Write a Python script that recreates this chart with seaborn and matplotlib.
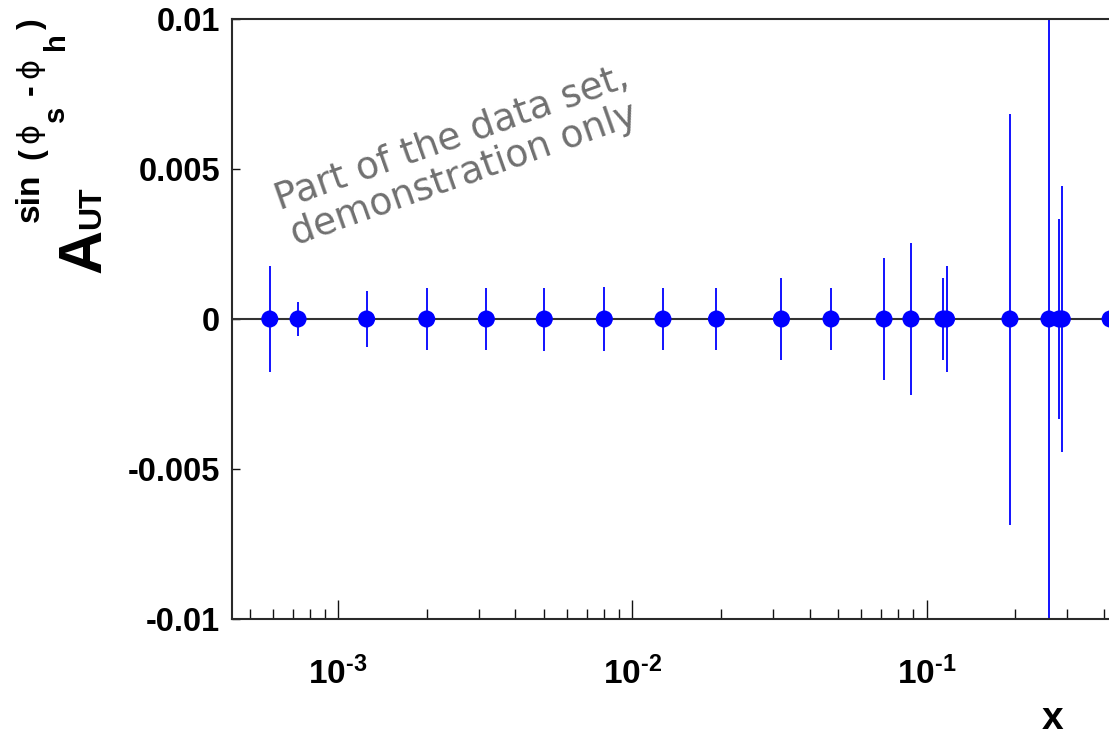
import matplotlib
matplotlib.use("Agg")
import matplotlib.pyplot as plt
import seaborn as sns
from matplotlib.ticker import FixedLocator, LogLocator, NullFormatter, NullLocator

# Bin centres in x and the measured sin(phi_s - phi_h) asymmetry with its error
x_vals = [5.86e-4, 7.31e-4, 1.25e-3, 2.0e-3, 3.19e-3, 5.02e-3, 8.03e-3,
          1.27e-2, 1.93e-2, 3.21e-2, 4.73e-2, 7.16e-2, 8.84e-2, 0.1135,
          0.1168, 0.1918, 0.2603, 0.2815, 0.2889, 0.42]
asym = [0.0, 0.0, 0.0, 0.0, 0.0, 0.0, 0.0, 0.0, 0.0, 0.0,
        0.0, 0.0, 0.0, 0.0, 0.0, 0.0, 0.0, 0.0, 0.0, 0.0]
asym_err = [0.00177, 0.00058, 0.00093, 0.00102, 0.00102, 0.00105, 0.00108,
            0.00102, 0.00102, 0.00138, 0.00102, 0.00202, 0.00252, 0.00138,
            0.00178, 0.00685, 0.0125, 0.00334, 0.00444, 0.00100]

y_ticks = [-0.01, -0.005, 0.0, 0.005, 0.01]
y_tick_labels = ["-0.01", "-0.005", "0", "0.005", "0.01"]
x_ticks = [1e-3, 1e-2, 1e-1]
x_tick_labels = [r"$10^{\text{-}3}$", r"$10^{\text{-}2}$", r"$10^{\text{-}1}$"]
x_range = (4.36e-4, 1.0)
y_range = (-0.01, 0.01)

W, H = 1109, 738

sns.set_theme(style="white")
plt.rcParams.update({
    "font.family": ["Liberation Sans", "DejaVu Sans"],
    "font.weight": "bold",
    "text.color": "black",
    "xtick.color": "black",
    "ytick.color": "black",
    "xtick.labelcolor": "black",
    "ytick.labelcolor": "black",
    "mathtext.fontset": "custom",
    "mathtext.rm": "Liberation Sans:bold",
    "mathtext.bf": "Liberation Sans:bold",
    "mathtext.sf": "Liberation Sans:bold",
    "mathtext.it": "Liberation Sans:bold",
    "axes.unicode_minus": False,
})


def fx(px):
    return px / W


def fy(py):
    return 1 - py / H


fig = plt.figure(figsize=(W / 100, H / 100), dpi=100)
fig.patch.set_facecolor("white")
# frame runs past the right edge of the canvas
ax = fig.add_axes([fx(232), fy(619), 989 / W, (619 - 19) / H])
ax.set_facecolor("white")

ax.axhline(0.0, color="#333333", lw=1.5, zorder=1)

lo = [a - e for a, e in zip(asym, asym_err)]
hi = [a + e for a, e in zip(asym, asym_err)]
ax.vlines(x_vals, lo, hi, color="#0000ff", lw=1.3, zorder=2)
sns.scatterplot(x=x_vals, y=asym, ax=ax, color="#0000ff", s=150,
                marker="o", edgecolor="none", linewidth=0, zorder=3)

ax.set_xscale("log")
ax.set_xlim(*x_range)
ax.set_ylim(*y_range)

ax.xaxis.set_major_locator(FixedLocator(x_ticks))
ax.set_xticklabels(x_tick_labels)
ax.xaxis.set_minor_locator(LogLocator(base=10, subs=range(2, 10), numticks=20))
ax.xaxis.set_minor_formatter(NullFormatter())
ax.set_yticks(y_ticks)
ax.set_yticklabels(y_tick_labels)
ax.yaxis.set_minor_locator(NullLocator())

ax.tick_params(axis="x", which="major", direction="in", length=13.5, width=1.0,
               color="#111111", pad=27, labelsize=24, bottom=True, top=False)
ax.tick_params(axis="x", which="minor", direction="in", length=7.0, width=1.0,
               color="#111111", bottom=True, top=False)
ax.tick_params(axis="y", which="major", direction="in", length=6, width=1.0,
               color="#111111", pad=8.5, labelsize=23.5, left=True, right=False)
for lab in ax.get_xticklabels() + ax.get_yticklabels():
    lab.set_fontweight("bold")
    lab.set_color("black")

for side in ["left", "bottom", "top", "right"]:
    ax.spines[side].set_visible(True)
    ax.spines[side].set_color("#2a2a2a")
    ax.spines[side].set_linewidth(1.5)

ax.set_xlabel("")
ax.set_ylabel("")
ax.grid(False)

# x-axis title
fig.text(fx(1053), fy(737), "x", ha="center", va="bottom", fontsize=28,
         fontweight="bold", color="black")


# y-axis title, laid out piece by piece reading bottom to top
def vtext(x_base, y_start, s, size, family="Liberation Sans", weight="bold"):
    fig.text(fx(x_base), fy(y_start), s, rotation=90, rotation_mode="anchor",
             ha="left", va="baseline", fontsize=size, fontweight=weight,
             family=family, color="black")


vtext(100, 273, "A", 44)
vtext(100, 229, "UT", 23)
vtext(39, 222, "sin", 24)
vtext(40, 159, "(", 23)
vtext(38, 143, "\u03d5", 22, family="DejaVu Sans", weight="normal")
vtext(64, 122, "s", 21)
vtext(39, 95, "-", 23)
vtext(38, 78, "\u03d5", 22, family="DejaVu Sans", weight="normal")
vtext(64, 50, "h", 21)
vtext(40, 29, ")", 23)

# watermark note
fig.text(fx(458), fy(157), "Part of the data set,\ndemonstration only",
         rotation=19.5, rotation_mode="anchor", ha="center", va="center",
         multialignment="center", linespacing=1.1, fontsize=27,
         family="DejaVu Sans", fontweight="normal", color="#707070")

fig.savefig("out.png", dpi=100, facecolor="white")
